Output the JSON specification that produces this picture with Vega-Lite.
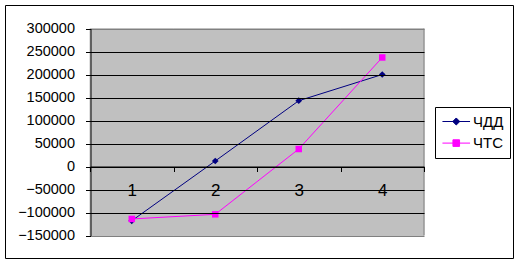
{
  "$schema": "https://vega.github.io/schema/vega-lite/v6.json",
  "width": 508,
  "height": 253,
  "autosize": "none",
  "padding": {"left": 5, "top": 5, "right": 7, "bottom": 6},
  "background": "white",
  "config": {
    "view": {"stroke": "black", "strokeWidth": 1},
    "font": "Liberation Sans",
    "axis": {"labelOverlap": false, "zindex": 1},
    "legend": {
      "orient": "none",
      "legendX": 430,
      "legendY": 102,
      "strokeColor": "black",
      "fillColor": "white",
      "padding": 6.5,
      "labelFontSize": 15,
      "labelColor": "black",
      "symbolSize": 225,
      "labelOffset": 15.5,
      "rowPadding": 5.6
    }
  },
  "data": {
    "values": [
      {"x": 1, "series": "ЧДД", "value": -118000},
      {"x": 2, "series": "ЧДД", "value": 12000},
      {"x": 3, "series": "ЧДД", "value": 143000},
      {"x": 4, "series": "ЧДД", "value": 200000},
      {"x": 1, "series": "ЧТС", "value": -114000},
      {"x": 2, "series": "ЧТС", "value": -104000},
      {"x": 3, "series": "ЧТС", "value": 38000},
      {"x": 4, "series": "ЧТС", "value": 237000}
    ]
  },
  "encoding": {
    "x": {
      "field": "x",
      "type": "ordinal",
      "scale": {"type": "band", "domain": [1, 2, 3, 4], "range": [85, 419], "paddingInner": 0, "paddingOuter": 0},
      "axis": {
        "title": null,
        "orient": "bottom",
        "offset": -91.5,
        "domainColor": "black",
        "domainWidth": 1,
        "tickBand": "extent",
        "tickColor": "black",
        "tickSize": 5,
        "labelAngle": 0,
        "labelFontSize": 17,
        "labelColor": "black",
        "labelPadding": 11,
        "grid": false,
        "zindex": 1
      }
    },
    "y": {
      "field": "value",
      "type": "quantitative",
      "scale": {"domain": [-150000, 300000], "range": [230.5, 23.5], "nice": false, "zero": false},
      "axis": {
        "title": null,
        "offset": -85.5,
        "tickCount": 9,
        "format": "d",
        "labelOverlap": false,
        "labelFontSize": 14.5,
        "labelColor": "black",
        "labelPadding": 11,
        "tickSize": 5,
        "tickColor": "black",
        "domainColor": "black",
        "grid": true,
        "gridColor": {"condition": {"test": "datum.value === 300000 || datum.value === -150000", "value": "#808080"}, "value": "black"},
        "zindex": 1
      }
    },
    "color": {
      "field": "series",
      "type": "nominal",
      "scale": {"domain": ["ЧДД", "ЧТС"], "range": ["#000080", "#FF00FF"]},
      "legend": {
        "title": null,
        "encode": {
          "symbols": {
            "update": {
              "shape": {"signal": "datum.value === 'ЧДД' ? 'M-0.94,0L2.74,0M0.9,-0.47L1.37,0L0.9,0.47L0.43,0Z' : 'M-0.94,0L2.74,0M0.46,-0.44L1.34,-0.44L1.34,0.44L0.46,0.44Z'"},
              "stroke": {"signal": "datum.value === 'ЧДД' ? '#000080' : '#FF00FF'"},
              "fill": {"signal": "datum.value === 'ЧДД' ? '#000080' : '#FF00FF'"},
              "strokeWidth": {"value": 1},
              "opacity": {"value": 1}
            }
          }
        }
      }
    }
  },
  "layer": [
    {
      "transform": [{"filter": "datum.series === 'ЧДД'"}],
      "mark": {"type": "rect", "fill": "#C0C0C0", "stroke": "#C0C0C0", "strokeWidth": 1},
      "encoding": {
        "y": {"datum": -150000, "type": "quantitative"},
        "y2": {"datum": 300000},
        "color": null
      }
    },
    {
      "transform": [{"filter": "datum.series === 'ЧДД'"}, {"filter": "datum.x === 4"}],
      "mark": {"type": "rule", "color": "#808080", "strokeWidth": 1},
      "encoding": {
        "x": {"datum": 4, "type": "ordinal", "bandPosition": 1},
        "y": {"datum": -150000, "type": "quantitative"},
        "y2": {"datum": 300000},
        "color": null
      }
    },
    {
      "mark": {"type": "line", "strokeWidth": 1}
    },
    {
      "transform": [{"filter": "datum.series === 'ЧДД'"}],
      "mark": {"type": "point", "shape": "diamond", "filled": true, "opacity": 1, "size": 45}
    },
    {
      "transform": [{"filter": "datum.series === 'ЧТС'"}],
      "mark": {"type": "point", "shape": "square", "filled": true, "opacity": 1, "size": 42}
    }
  ]
}
